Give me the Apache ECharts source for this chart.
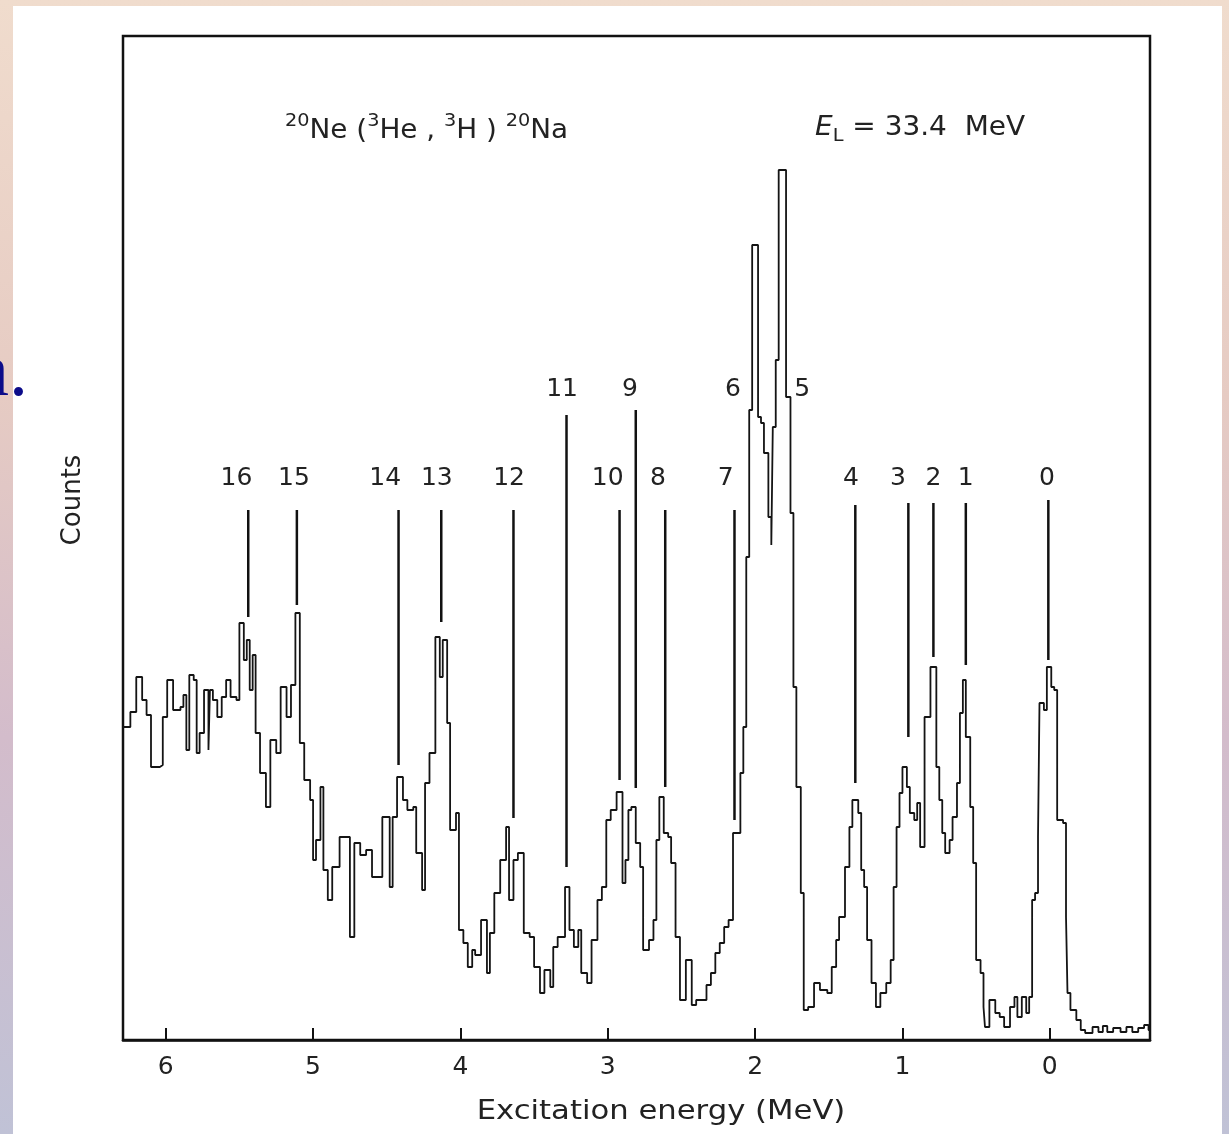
<!DOCTYPE html>
<html lang="en">
<head>
    <meta charset="UTF-8">
    <title>20Ne(3He,3H)20Na</title>
    <script src="https://cdn.jsdelivr.net/npm/echarts@6/dist/echarts.min.js"></script>
    <style>
        html, body { margin: 0; padding: 0; }
        body {
            width: 1229px; height: 1134px; overflow: hidden;
            background: linear-gradient(180deg, #f0dccd 0%, #e6cbc3 35%, #d3bccb 65%, #c0c2d6 100%);
        }
        #chart { width: 1229px; height: 1134px; }
    </style>
</head>
<body>
<div id="chart"></div>
<script>
    // start of each histogram step (excitation energy, MeV), left to right
    var energy = [6.29,6.24,6.20,6.16,6.13,6.10,6.04,6.02,5.99,5.95,
        5.90,5.88,5.86,5.84,5.81,5.79,5.77,5.74,5.71,5.70,
        5.68,5.65,5.62,5.59,5.56,5.52,5.50,5.47,5.45,5.43,
        5.41,5.39,5.36,5.32,5.29,5.25,5.22,5.18,5.15,5.12,
        5.09,5.06,5.02,5.00,4.98,4.95,4.93,4.90,4.87,4.82,
        4.75,4.72,4.68,4.64,4.60,4.53,4.48,4.46,4.43,4.39,
        4.36,4.32,4.30,4.26,4.24,4.21,4.17,4.14,4.12,4.09,
        4.07,4.03,4.01,3.98,3.95,3.92,3.90,3.86,3.82,3.80,
        3.77,3.73,3.69,3.67,3.64,3.61,3.57,3.53,3.50,3.46,
        3.43,3.39,3.37,3.34,3.29,3.26,3.23,3.20,3.18,3.14,
        3.11,3.07,3.04,3.01,2.98,2.94,2.90,2.88,2.86,2.84,
        2.81,2.78,2.76,2.72,2.69,2.67,2.65,2.62,2.59,2.57,
        2.54,2.51,2.47,2.43,2.40,2.33,2.30,2.27,2.24,2.21,
        2.18,2.15,2.10,2.08,2.06,2.04,2.02,1.98,1.96,1.94,
        1.91,1.89,1.88,1.86,1.84,1.79,1.76,1.74,1.72,1.69,
        1.67,1.64,1.60,1.56,1.51,1.48,1.45,1.43,1.39,1.36,
        1.34,1.30,1.28,1.26,1.24,1.21,1.18,1.15,1.11,1.08,
        1.06,1.04,1.02,1.00,0.97,0.95,0.92,0.90,0.88,0.85,
        0.81,0.77,0.75,0.73,0.71,0.68,0.66,0.63,0.61,0.59,
        0.57,0.54,0.52,0.50,0.47,0.45,0.44,0.41,0.37,0.34,
        0.31,0.27,0.24,0.22,0.19,0.16,0.14,0.12,0.10,0.08,
        0.07,0.04,0.02,-0.01,-0.03,-0.05,-0.09,-0.11,-0.12,-0.14,
        -0.18,-0.21,-0.24,-0.29,-0.33,-0.36,-0.39,-0.43,-0.48,-0.52,
        -0.56,-0.60,-0.64,-0.67,-0.68];
    // counts (arbitrary units) for each step
    var counts = [313,328,363,340,325,273,275,323,360,330,
        333,345,290,365,360,287,307,350,290,350,
        340,323,343,360,343,340,417,380,400,350,
        385,307,267,233,300,287,353,323,355,427,
        297,260,240,180,200,253,170,140,173,203,
        103,197,185,190,163,223,153,223,263,240,
        230,233,187,150,257,287,403,363,400,317,
        210,227,110,97,73,90,85,120,67,107,
        147,180,213,140,180,187,107,103,73,47,
        70,53,93,103,153,110,93,110,67,57,
        100,140,153,220,230,248,157,180,230,233,
        197,173,90,100,120,200,243,207,203,177,
        103,40,80,35,40,55,67,87,97,113,
        120,207,267,313,483,630,795,623,617,587,
        523,495,613,680,870,643,527,353,253,147,
        30,33,57,50,47,73,100,123,173,213,
        240,227,170,153,100,57,33,47,57,80,
        153,213,247,273,253,227,220,237,193,323,
        373,273,240,207,187,200,223,257,327,360,
        303,233,177,80,67,33,13,40,27,23,
        13,33,43,23,43,27,43,140,147,203,
        337,330,373,353,350,220,217,123,47,30,
        20,10,7,13,8,14,8,12,8,13,
        8,12,15,10,10];

    var tickValues = [0, 1, 2, 3, 4, 5, 6];

    // peak markers
    var peakNames = ['16','15','14','13','12','11','10','9','8','7','6','5','4','3','2','1','0'];
    var labelE = [5.52,5.13,4.51,4.16,3.67,3.31,3.00,2.85,2.66,2.20,2.15,1.68,1.35,1.03,0.79,0.57,0.02];
    var labelCount = [562,562,562,562,562,651,562,651,562,562,651,651,562,562,562,562,562];
    var lineE = [5.44,5.11,4.42,4.13,3.64,3.28,2.92,2.81,2.61,2.14,null,null,1.32,0.96,0.79,0.57,0.01];
    var lineTop = [530,530,530,530,530,625,530,630,530,530,null,null,535,537,537,537,540];
    var lineBottom = [423,435,275,418,222,173,260,252,253,220,null,null,257,303,383,375,380];

    var font = '"DejaVu Sans", "Liberation Sans", sans-serif';
    var ink = '#222';

    var chart = echarts.init(document.getElementById('chart'));

    chart.setOption({
        animation: false,
        backgroundColor: 'transparent',
        grid: {
            left: 123, right: 79, top: 36, bottom: 94,
            show: true, borderColor: '#111', borderWidth: 2.5,
            containLabel: false, outerBoundsMode: 'none'
        },
        xAxis: {
            type: 'value',
            inverse: true,
            min: -0.68,
            max: 6.29,
            axisLine: { show: true, lineStyle: { color: '#111', width: 2.5 } },
            axisTick: { show: true, inside: true, length: 12, customValues: tickValues,
                lineStyle: { color: '#111', width: 2 } },
            axisLabel: { customValues: tickValues, margin: 15, color: ink,
                fontSize: 25, fontFamily: font },
            splitLine: { show: false }
        },
        yAxis: {
            type: 'value',
            min: 0,
            max: 1004,
            axisLine: { show: false },
            axisTick: { show: false },
            axisLabel: { show: false },
            splitLine: { show: false }
        },
        graphic: [
            { type: 'rect', z: -10, shape: { x: 13, y: 6, width: 1209, height: 1130 },
                style: { fill: '#fff' } },
            { type: 'text', x: 28, y: 413, style: { text: 'a.', align: 'right', verticalAlign: 'bottom',
                font: '76px "Liberation Serif", "DejaVu Serif", serif', fill: '#0c0c8a' } },
            { type: 'text', x: 285, y: 128, scaleX: 1.07, style: {
                text: '{s|20}{n|Ne (}{s|3}{n|He , }{s|3}{n|H ) }{s|20}{n|Na}',
                verticalAlign: 'middle', fill: ink,
                rich: {
                    n: { fontSize: 26, fontFamily: font, lineHeight: 32, verticalAlign: 'bottom', fill: ink },
                    s: { fontSize: 18, fontFamily: font, lineHeight: 16, verticalAlign: 'top', fill: ink }
                } } },
            { type: 'text', x: 815, y: 130, scaleX: 1.075, style: {
                text: '{i|E}{b|L}{n| = 33.4  MeV}',
                verticalAlign: 'middle', fill: ink,
                rich: {
                    i: { fontSize: 26, fontFamily: font, fontStyle: 'italic', lineHeight: 30, verticalAlign: 'top', fill: ink },
                    b: { fontSize: 18, fontFamily: font, lineHeight: 16, verticalAlign: 'bottom', fill: ink },
                    n: { fontSize: 26, fontFamily: font, lineHeight: 30, verticalAlign: 'top', fill: ink }
                } } },
            { type: 'text', x: 73, y: 500, rotation: Math.PI / 2, style: {
                text: 'Counts', align: 'center', verticalAlign: 'middle',
                font: '26px ' + font, fill: ink } },
            { type: 'text', x: 661, y: 1112, scaleX: 1.18, style: {
                text: 'Excitation energy (MeV)', align: 'center', verticalAlign: 'middle',
                font: '26px ' + font, fill: ink } }
        ],
        series: [
            {
                type: 'line',
                step: 'end',
                symbol: 'none',
                data: energy.map(function (e, i) { return [e, counts[i]]; }),
                lineStyle: { color: '#141414', width: 1.8 }
            },
            {
                type: 'custom',
                clip: false,
                data: labelE.map(function (e, i) { return [e, labelCount[i]]; }),
                renderItem: function (params, api) {
                    var i = params.dataIndex;
                    var kids = [];
                    var p = api.coord([labelE[i], labelCount[i]]);
                    kids.push({ type: 'text', style: { text: peakNames[i], x: p[0], y: p[1],
                        align: 'center', verticalAlign: 'middle', font: '25px ' + font, fill: ink } });
                    if (lineE[i] !== null) {
                        var a = api.coord([lineE[i], lineTop[i]]);
                        var b = api.coord([lineE[i], lineBottom[i]]);
                        kids.push({ type: 'line', shape: { x1: a[0], y1: a[1], x2: b[0], y2: b[1] },
                            style: { stroke: '#111', lineWidth: 2.5 } });
                    }
                    return { type: 'group', children: kids };
                }
            }
        ]
    });
</script>
</body>
</html>
